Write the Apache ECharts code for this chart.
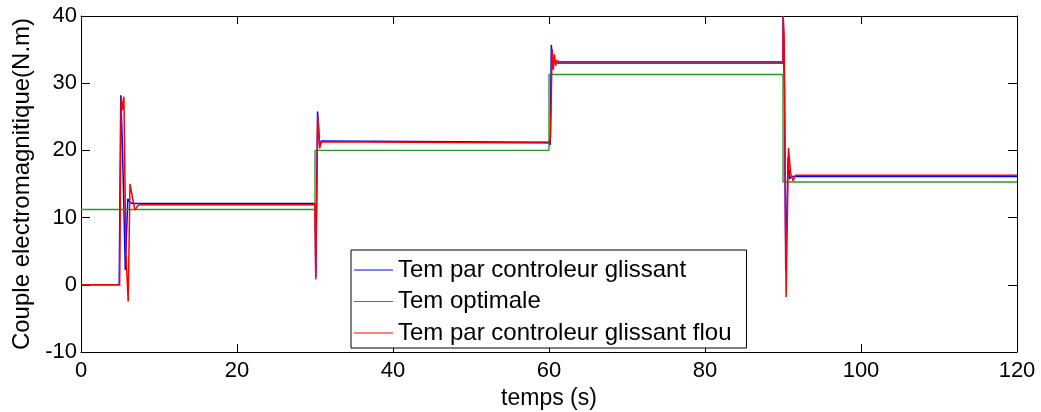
<!DOCTYPE html>
<html>
<head>
<meta charset="utf-8">
<script src="https://cdn.jsdelivr.net/npm/echarts@6/dist/echarts.min.js"></script>
<style>html,body{margin:0;padding:0;background:#fff;}#c{width:1041px;height:412px;}</style>
</head>
<body>
<div id="c"></div>
<script>
// Tem par controleur glissant (blue)
const blueT = [0, 4.9, 5.1, 5.3, 5.45, 5.68, 6.0, 6.25, 6.6, 30.0, 30.1, 30.33, 30.6, 30.8, 31.0, 60.0, 60.15, 60.3, 60.45, 60.6, 60.8, 90.0, 90.02, 90.12, 90.18, 90.35, 90.65, 90.85, 91.1, 120];
const blueV = [0, 0, 28.2, 21.0, 14.0, 2.2, 12.8, 12.3, 12.1, 12.1, 1.2, 25.8, 20.6, 21.4, 21.2, 21.2, 20.8, 35.7, 32.6, 33.4, 33.0, 33.0, 40.0, 32.5, 29.4, 2.2, 19.0, 15.8, 16.1, 16.1];
// Tem optimale (green)
const greenT = [0, 30, 30, 60, 60, 90, 90, 120];
const greenV = [11.2, 11.2, 20.0, 20.0, 31.3, 31.3, 15.3, 15.3];
// Tem par controleur glissant flou (red)
const redT = [0, 4.95, 5.15, 5.3, 5.5, 5.75, 6.05, 6.28, 6.5, 6.9, 7.3, 7.6, 30.0, 30.1, 30.35, 30.6, 30.8, 31.0, 60.0, 60.2, 60.4, 60.55, 60.7, 60.85, 61.0, 61.3, 90.0, 90.03, 90.15, 90.4, 90.7, 91.0, 91.3, 91.6, 120];
const redV = [0, 0, 28.0, 26.0, 28.0, 5.0, -2.5, 15.0, 14.8, 11.1, 11.8, 11.9, 11.9, 0.8, 25.2, 20.3, 21.3, 21.1, 21.1, 22.0, 35.1, 32.0, 34.3, 32.6, 33.4, 33.2, 33.2, 40.0, 36.9, -1.8, 20.4, 16.5, 15.5, 16.3, 16.3];

const seriesNames = ['Tem par controleur glissant', 'Tem optimale', 'Tem par controleur glissant flou'];
const xTicks = {min: 0, max: 120, interval: 20};
const yTicks = {min: -10, max: 40, interval: 10};

const zip = (t, v) => t.map((x, i) => [x, v[i]]);
const font = 'Liberation Sans, Arial, sans-serif';

const chart = echarts.init(document.getElementById('c'), null, {renderer: 'canvas'});
const baseAxisLine = {show: true, onZero: false, lineStyle: {color: '#000', width: 1}};
chart.setOption({
  animation: false,
  backgroundColor: '#fff',
  grid: {left: 81, right: 24, top: 16, bottom: 60, containLabel: false, outerBoundsMode: 'none'},
  xAxis: [{
    type: 'value', min: xTicks.min, max: xTicks.max, interval: xTicks.interval,
    position: 'bottom',
    name: 'temps (s)', nameLocation: 'middle', nameGap: 34,
    nameTextStyle: {fontFamily: font, fontSize: 23, color: '#000'},
    axisLine: baseAxisLine,
    axisTick: {show: true, inside: true, length: 8, lineStyle: {color: '#000'}},
    axisLabel: {fontFamily: font, fontSize: 22, color: '#000', margin: 8},
    splitLine: {show: false}
  }, {
    type: 'value', min: xTicks.min, max: xTicks.max, interval: xTicks.interval,
    position: 'top',
    axisLine: baseAxisLine,
    axisTick: {show: true, inside: true, length: 8, lineStyle: {color: '#000'}},
    axisLabel: {show: false},
    splitLine: {show: false}
  }],
  yAxis: [{
    type: 'value', min: yTicks.min, max: yTicks.max, interval: yTicks.interval,
    position: 'left',
    name: 'Couple electromagnitique(N.m)', nameLocation: 'middle', nameGap: 46,
    nameTextStyle: {fontFamily: font, fontSize: 24, color: '#000'},
    axisLine: baseAxisLine,
    axisTick: {show: true, inside: true, length: 9, lineStyle: {color: '#000'}},
    axisLabel: {fontFamily: font, fontSize: 22, color: '#000', margin: 4},
    splitLine: {show: false}
  }, {
    type: 'value', min: yTicks.min, max: yTicks.max, interval: yTicks.interval,
    position: 'right',
    axisLine: baseAxisLine,
    axisTick: {show: true, inside: true, length: 9, lineStyle: {color: '#000'}},
    axisLabel: {show: false},
    splitLine: {show: false}
  }],
  legend: {
    orient: 'vertical', left: 351, top: 250,
    backgroundColor: '#fff', borderColor: '#000', borderWidth: 1, borderRadius: 0,
    padding: [7, 15, 2, 3], itemGap: 5.5, itemWidth: 39, itemHeight: 1.2, icon: 'rect',
    textStyle: {fontFamily: font, fontSize: 24, color: '#000', lineHeight: 26},
    data: seriesNames
  },
  series: [
    {name: seriesNames[0], type: 'line', data: zip(blueT, blueV), showSymbol: false, symbol: 'none',
     lineStyle: {color: '#0000ff', width: 1.5}, itemStyle: {color: '#0000ff'}, z: 2},
    {name: seriesNames[1], type: 'line', data: zip(greenT, greenV), showSymbol: false, symbol: 'none',
     lineStyle: {color: '#259a2a', width: 1.4}, itemStyle: {color: '#259a2a'}, z: 3},
    {name: seriesNames[2], type: 'line', data: zip(redT, redV), showSymbol: false, symbol: 'none',
     lineStyle: {color: '#ff0000', width: 1.5}, itemStyle: {color: '#ff0000'}, z: 4}
  ]
});
</script>
</body>
</html>
